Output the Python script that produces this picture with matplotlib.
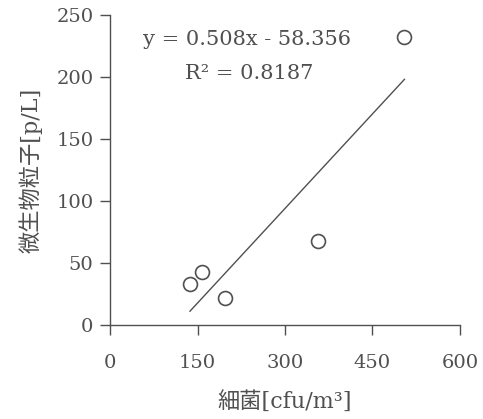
import numpy as np
import matplotlib
matplotlib.use("Agg")
import matplotlib.pyplot as plt

# data
bacteria = [137, 157, 197, 356, 505]      # 細菌 [cfu/m3]
particles = [33, 43, 22, 68, 232]         # 微生物粒子 [p/L]
slope = 0.508
intercept = -58.356
r2 = 0.8187
xticks = [0, 150, 300, 450, 600]
yticks = [0, 50, 100, 150, 200, 250]

plt.rcParams['font.family'] = ['DejaVu Serif', 'Noto Sans CJK JP']

col = '#505050'

fig = plt.figure(figsize=(4.83, 4.19), dpi=100)
ax = fig.add_axes([0.228, 0.224, 0.724, 0.740])

ax.plot(bacteria, particles, 'o', mfc='none', mec=col, mew=1.2, ms=10, clip_on=False)

xl = np.array([min(bacteria), max(bacteria)])
ax.plot(xl, slope * xl + intercept, color=col, lw=1.0)

ax.set_xlim(0, 600)
ax.set_ylim(0, 250)
ax.set_xticks(xticks)
ax.set_yticks(yticks)
ax.spines['top'].set_visible(False)
ax.spines['right'].set_visible(False)
for s in ['left', 'bottom']:
    ax.spines[s].set_color(col)
    ax.spines[s].set_linewidth(1.0)
ax.tick_params(direction='out', length=7, width=1.0, color=col, labelcolor=col,
               labelsize=14)
ax.tick_params(axis='x', pad=14)
ax.tick_params(axis='y', pad=5)

ax.text(0.095, 0.922, f'y = {slope}x - {-intercept}', transform=ax.transAxes,
        fontsize=15, color=col, va='center')
ax.text(0.215, 0.81, f'R² = {r2}', transform=ax.transAxes,
        fontsize=15, color=col, va='center')

ax.set_xlabel('細菌[cfu/m³]', fontsize=16, color=col, labelpad=13)
ax.set_ylabel('微生物粒子[p/L]', fontsize=16, color=col, labelpad=10)

fig.savefig('out.png', dpi=100)
